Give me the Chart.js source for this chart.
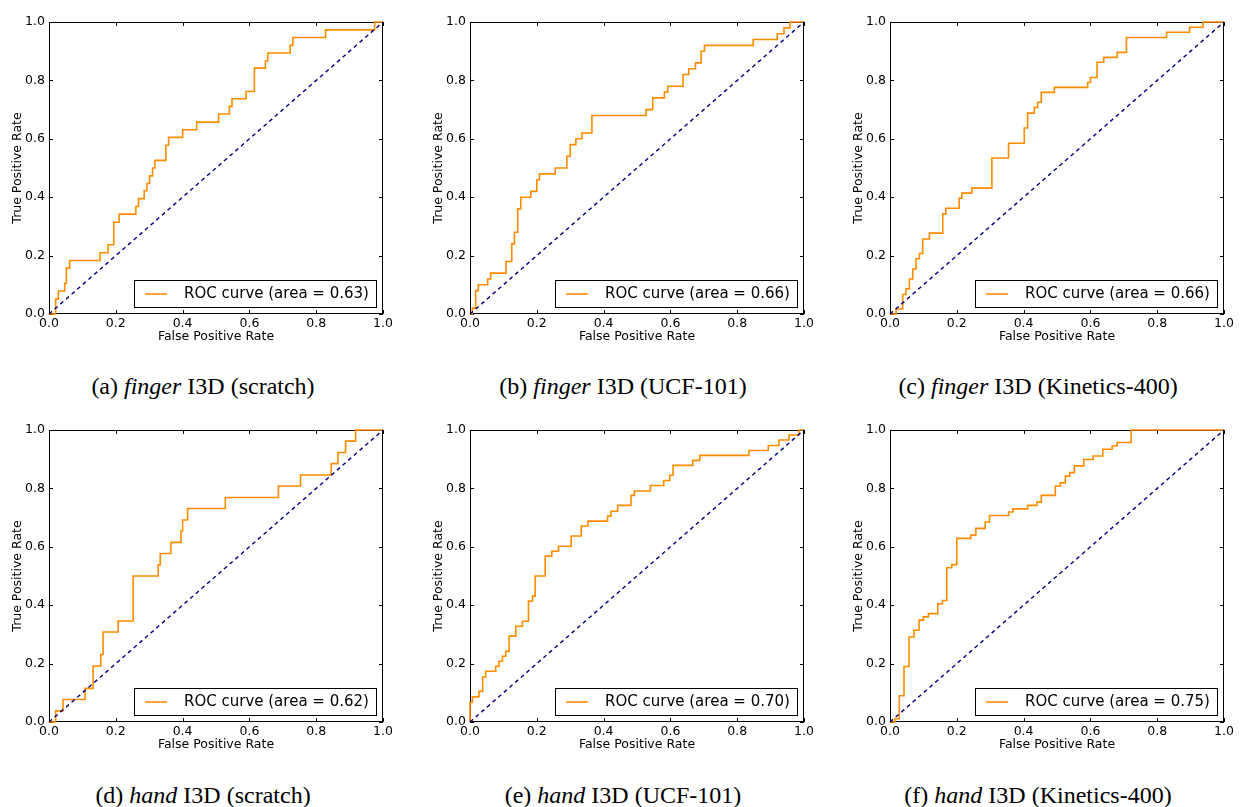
<!DOCTYPE html>
<html>
<head>
<meta charset="utf-8">
<script src="https://cdn.jsdelivr.net/npm/chart.js@4.4.1/dist/chart.umd.min.js"></script>
<style>
  html, body { margin: 0; padding: 0; background: #fff; }
  body { width: 1243px; height: 807px; position: relative; overflow: hidden; }
  canvas.panel { position: absolute; }
  .caption {
    position: absolute; width: 420px; height: 26px; line-height: 26px;
    text-align: center; white-space: nowrap; color: #000;
    font-family: 'Liberation Serif', 'Times New Roman', serif; font-size: 24px;
  }
</style>
</head>
<body>
<script>
// ROC points (fpr, tpr), one pair per panel
const fprA = [0, 0.02, 0.028, 0.047, 0.052, 0.062, 0.153, 0.177, 0.194, 0.21, 0.26, 0.268, 0.285, 0.293, 0.301, 0.31, 0.317, 0.35, 0.358, 0.40, 0.442, 0.508, 0.54, 0.548, 0.59, 0.615, 0.648, 0.655, 0.722, 0.73, 0.828, 0.975, 1.0];
const tprA = [0, 0.051, 0.079, 0.105, 0.157, 0.183, 0.21, 0.237, 0.314, 0.342, 0.368, 0.395, 0.422, 0.447, 0.473, 0.5, 0.526, 0.578, 0.605, 0.631, 0.657, 0.685, 0.711, 0.737, 0.762, 0.842, 0.867, 0.894, 0.92, 0.947, 0.973, 1.0, 1.0];

const fprB = [0, 0.007, 0.017, 0.025, 0.053, 0.062, 0.108, 0.125, 0.133, 0.143, 0.152, 0.182, 0.2, 0.208, 0.255, 0.29, 0.3, 0.317, 0.335, 0.365, 0.527, 0.547, 0.582, 0.592, 0.638, 0.655, 0.675, 0.692, 0.702, 0.848, 0.92, 0.94, 0.958, 1.0];
const tprB = [0, 0.02, 0.08, 0.1, 0.12, 0.14, 0.18, 0.24, 0.28, 0.36, 0.4, 0.42, 0.46, 0.48, 0.5, 0.54, 0.58, 0.6, 0.62, 0.68, 0.7, 0.74, 0.76, 0.78, 0.82, 0.84, 0.86, 0.9, 0.92, 0.94, 0.96, 0.98, 1.0, 1.0];

const fprC = [0, 0.018, 0.038, 0.048, 0.058, 0.068, 0.078, 0.088, 0.098, 0.118, 0.158, 0.167, 0.207, 0.215, 0.245, 0.305, 0.355, 0.402, 0.412, 0.432, 0.442, 0.453, 0.492, 0.592, 0.6, 0.62, 0.64, 0.68, 0.708, 0.828, 0.897, 0.937, 1.0];
const tprC = [0, 0.017, 0.067, 0.086, 0.12, 0.154, 0.189, 0.207, 0.257, 0.277, 0.343, 0.362, 0.397, 0.414, 0.431, 0.534, 0.585, 0.637, 0.688, 0.707, 0.725, 0.759, 0.776, 0.793, 0.81, 0.862, 0.879, 0.896, 0.947, 0.965, 0.982, 1.0, 1.0];

const fprD = [0, 0.02, 0.042, 0.108, 0.132, 0.155, 0.162, 0.207, 0.252, 0.327, 0.333, 0.365, 0.395, 0.4, 0.415, 0.528, 0.687, 0.753, 0.845, 0.865, 0.888, 0.918, 1.0];
const tprD = [0, 0.038, 0.077, 0.115, 0.192, 0.231, 0.308, 0.346, 0.5, 0.538, 0.577, 0.615, 0.654, 0.692, 0.731, 0.769, 0.808, 0.846, 0.885, 0.923, 0.962, 1.0, 1.0];

const fprE = [0, 0, 0.007, 0.027, 0.038, 0.047, 0.077, 0.087, 0.097, 0.107, 0.117, 0.137, 0.157, 0.175, 0.187, 0.195, 0.225, 0.245, 0.265, 0.303, 0.333, 0.353, 0.412, 0.422, 0.442, 0.482, 0.492, 0.54, 0.58, 0.598, 0.608, 0.667, 0.688, 0.835, 0.893, 0.925, 0.955, 0.985, 1.0];
const tprE = [0, 0.067, 0.086, 0.105, 0.154, 0.174, 0.191, 0.208, 0.225, 0.242, 0.294, 0.328, 0.345, 0.414, 0.431, 0.5, 0.568, 0.585, 0.602, 0.637, 0.671, 0.688, 0.705, 0.722, 0.742, 0.776, 0.791, 0.81, 0.827, 0.845, 0.879, 0.896, 0.913, 0.93, 0.947, 0.966, 0.983, 1.0, 1.0];

const fprF = [0, 0.015, 0.028, 0.042, 0.057, 0.072, 0.087, 0.1, 0.115, 0.143, 0.157, 0.17, 0.185, 0.2, 0.242, 0.257, 0.285, 0.298, 0.355, 0.368, 0.412, 0.44, 0.453, 0.495, 0.51, 0.525, 0.538, 0.552, 0.58, 0.608, 0.637, 0.665, 0.68, 0.722, 1.0];
const tprF = [0, 0.011, 0.09, 0.19, 0.291, 0.314, 0.349, 0.36, 0.371, 0.405, 0.416, 0.528, 0.539, 0.629, 0.64, 0.663, 0.685, 0.707, 0.719, 0.73, 0.742, 0.753, 0.776, 0.808, 0.819, 0.842, 0.854, 0.877, 0.899, 0.911, 0.934, 0.945, 0.957, 1.0, 1.0];

const AREAS = ['0.63', '0.66', '0.66', '0.62', '0.70', '0.75'];
const CAPTION_TAGS = ['(a)', '(b)', '(c)', '(d)', '(e)', '(f)'];
const CAPTION_WORDS = ['finger', 'finger', 'finger', 'hand', 'hand', 'hand'];
const CAPTION_MODELS = ['I3D (scratch)', 'I3D (UCF-101)', 'I3D (Kinetics-400)', 'I3D (scratch)', 'I3D (UCF-101)', 'I3D (Kinetics-400)'];
const DIAG_X = [0, 1];
const DIAG_Y = [0, 1];
const TICK_VALUES = [0, 0.2, 0.4, 0.6, 0.8, 1.0];

const PANELS = [[fprA, tprA], [fprB, tprB], [fprC, tprC], [fprD, tprD], [fprE, tprE], [fprF, tprF]];

const PLOT_LEFT = [49, 470, 890];
const PLOT_TOP = [22, 430];
const CAPTION_X = [203, 623, 1038];
const CAPTION_MID = [386, 795];
const PLOT_W = 334;
const PLOT_H = 292;
const Y_AXIS_W = 49;
const X_AXIS_H = 36;
const PAD_TOP = 12;
const PAD_RIGHT = 14;
const TICK_LEN = 4;

const ROC_COLOR = '#FF8C00';
const DIAG_COLOR = '#000080';
const TICK_FONT = { family: 'DejaVu Sans', size: 12.5 };
const LEGEND_FONT = '15px "DejaVu Sans"';

Chart.defaults.color = '#000';

// matplotlib-classic look: full frame with inward ticks on all four sides,
// drawn under the curves so the ROC line stays visible along the edges
const frameTicks = {
  id: 'frameTicks',
  beforeDatasetsDraw(chart) {
    const { ctx, chartArea: a, scales: { x, y } } = chart;
    ctx.save();
    ctx.strokeStyle = '#000';
    ctx.lineWidth = 1;
    ctx.beginPath();
    x.ticks.forEach((t) => {
      const px = Math.round(x.getPixelForValue(t.value)) + 0.5;
      ctx.moveTo(px, a.bottom);
      ctx.lineTo(px, a.bottom - TICK_LEN);
      ctx.moveTo(px, a.top);
      ctx.lineTo(px, a.top + TICK_LEN);
    });
    y.ticks.forEach((t) => {
      const py = Math.round(y.getPixelForValue(t.value)) + 0.5;
      ctx.moveTo(a.left, py);
      ctx.lineTo(a.left + TICK_LEN, py);
      ctx.moveTo(a.right, py);
      ctx.lineTo(a.right - TICK_LEN, py);
    });
    ctx.stroke();
    ctx.strokeRect(a.left + 0.5, a.top + 0.5, a.width - 1, a.height - 1);
    ctx.restore();
  },
};

// boxed legend in the lower right corner of the plot
const boxLegend = {
  id: 'boxLegend',
  afterDraw(chart) {
    const { ctx, chartArea: a } = chart;
    const ds = chart.data.datasets[1];
    ctx.save();
    ctx.font = LEGEND_FONT;
    const textW = ctx.measureText(ds.label).width;
    const w = Math.round(11 + 22 + 17 + textW + 7);
    const h = 27;
    const bx = Math.round(a.right - 7 - w);
    const by = Math.round(a.bottom - 7 - h);
    ctx.fillStyle = '#fff';
    ctx.fillRect(bx, by, w, h);
    ctx.strokeStyle = '#000';
    ctx.lineWidth = 1;
    ctx.strokeRect(bx + 0.5, by + 0.5, w, h);
    ctx.strokeStyle = ds.borderColor;
    ctx.lineWidth = ds.borderWidth;
    ctx.beginPath();
    ctx.moveTo(bx + 11, by + h / 2 + 0.5);
    ctx.lineTo(bx + 33, by + h / 2 + 0.5);
    ctx.stroke();
    ctx.fillStyle = '#000';
    ctx.textBaseline = 'middle';
    ctx.fillText(ds.label, bx + 50, by + h / 2 + 1);
    ctx.restore();
  },
};

const axisConfig = (title, isX) => ({
  type: 'linear',
  min: 0,
  max: 1,
  grid: { display: false, drawTicks: false },
  border: { display: false },
  ticks: {
    stepSize: 0.2,
    padding: isX ? 2 : 4,
    font: TICK_FONT,
    color: '#000',
    maxRotation: 0,
    autoSkip: false,
    callback: (v) => Number(v).toFixed(1),
  },
  afterBuildTicks: (scale) => {
    scale.ticks = TICK_VALUES.map((value) => ({ value }));
  },
  title: {
    display: true,
    text: title,
    font: TICK_FONT,
    color: '#000',
    padding: isX ? { top: 0, bottom: 5.5 } : { top: 10, bottom: 0 },
  },
  afterFit: (scale) => {
    if (isX) scale.height = X_AXIS_H;
    else scale.width = Y_AXIS_W;
  },
});

PANELS.forEach(([fpr, tpr], i) => {
  const col = i % 3;
  const row = Math.floor(i / 3);
  const left = PLOT_LEFT[col];
  const top = PLOT_TOP[row];

  const canvas = document.createElement('canvas');
  canvas.className = 'panel';
  canvas.width = Y_AXIS_W + PLOT_W + PAD_RIGHT;
  canvas.height = PAD_TOP + PLOT_H + X_AXIS_H;
  canvas.style.left = `${left - Y_AXIS_W}px`;
  canvas.style.top = `${top - PAD_TOP}px`;
  document.body.appendChild(canvas);

  const caption = document.createElement('div');
  caption.className = 'caption';
  caption.style.left = `${CAPTION_X[col] - 210}px`;
  caption.style.top = `${CAPTION_MID[row] - 13}px`;
  caption.innerHTML = `${CAPTION_TAGS[i]} <i>${CAPTION_WORDS[i]}</i> ${CAPTION_MODELS[i]}`;
  document.body.appendChild(caption);

  new Chart(canvas, {
    type: 'line',
    data: {
      datasets: [
        {
          label: 'chance',
          data: DIAG_X.map((x, k) => ({ x, y: DIAG_Y[k] })),
          borderColor: DIAG_COLOR,
          borderWidth: 1.4,
          borderDash: [4, 3.5],
          pointRadius: 0,
          fill: false,
          clip: 3,
        },
        {
          label: `ROC curve (area = ${AREAS[i]})`,
          data: fpr.map((x, k) => ({ x, y: tpr[k] })),
          stepped: true,
          borderColor: ROC_COLOR,
          borderWidth: 1.6,
          pointRadius: 0,
          fill: false,
          clip: 3,
        },
      ],
    },
    options: {
      responsive: false,
      animation: false,
      layout: { padding: { left: 0, top: PAD_TOP, right: PAD_RIGHT, bottom: 0 } },
      scales: {
        x: axisConfig('False Positive Rate', true),
        y: axisConfig('True Positive Rate', false),
      },
      plugins: {
        legend: { display: false },
        tooltip: { enabled: false },
      },
    },
    plugins: [frameTicks, boxLegend],
  });
});
</script>
</body>
</html>
